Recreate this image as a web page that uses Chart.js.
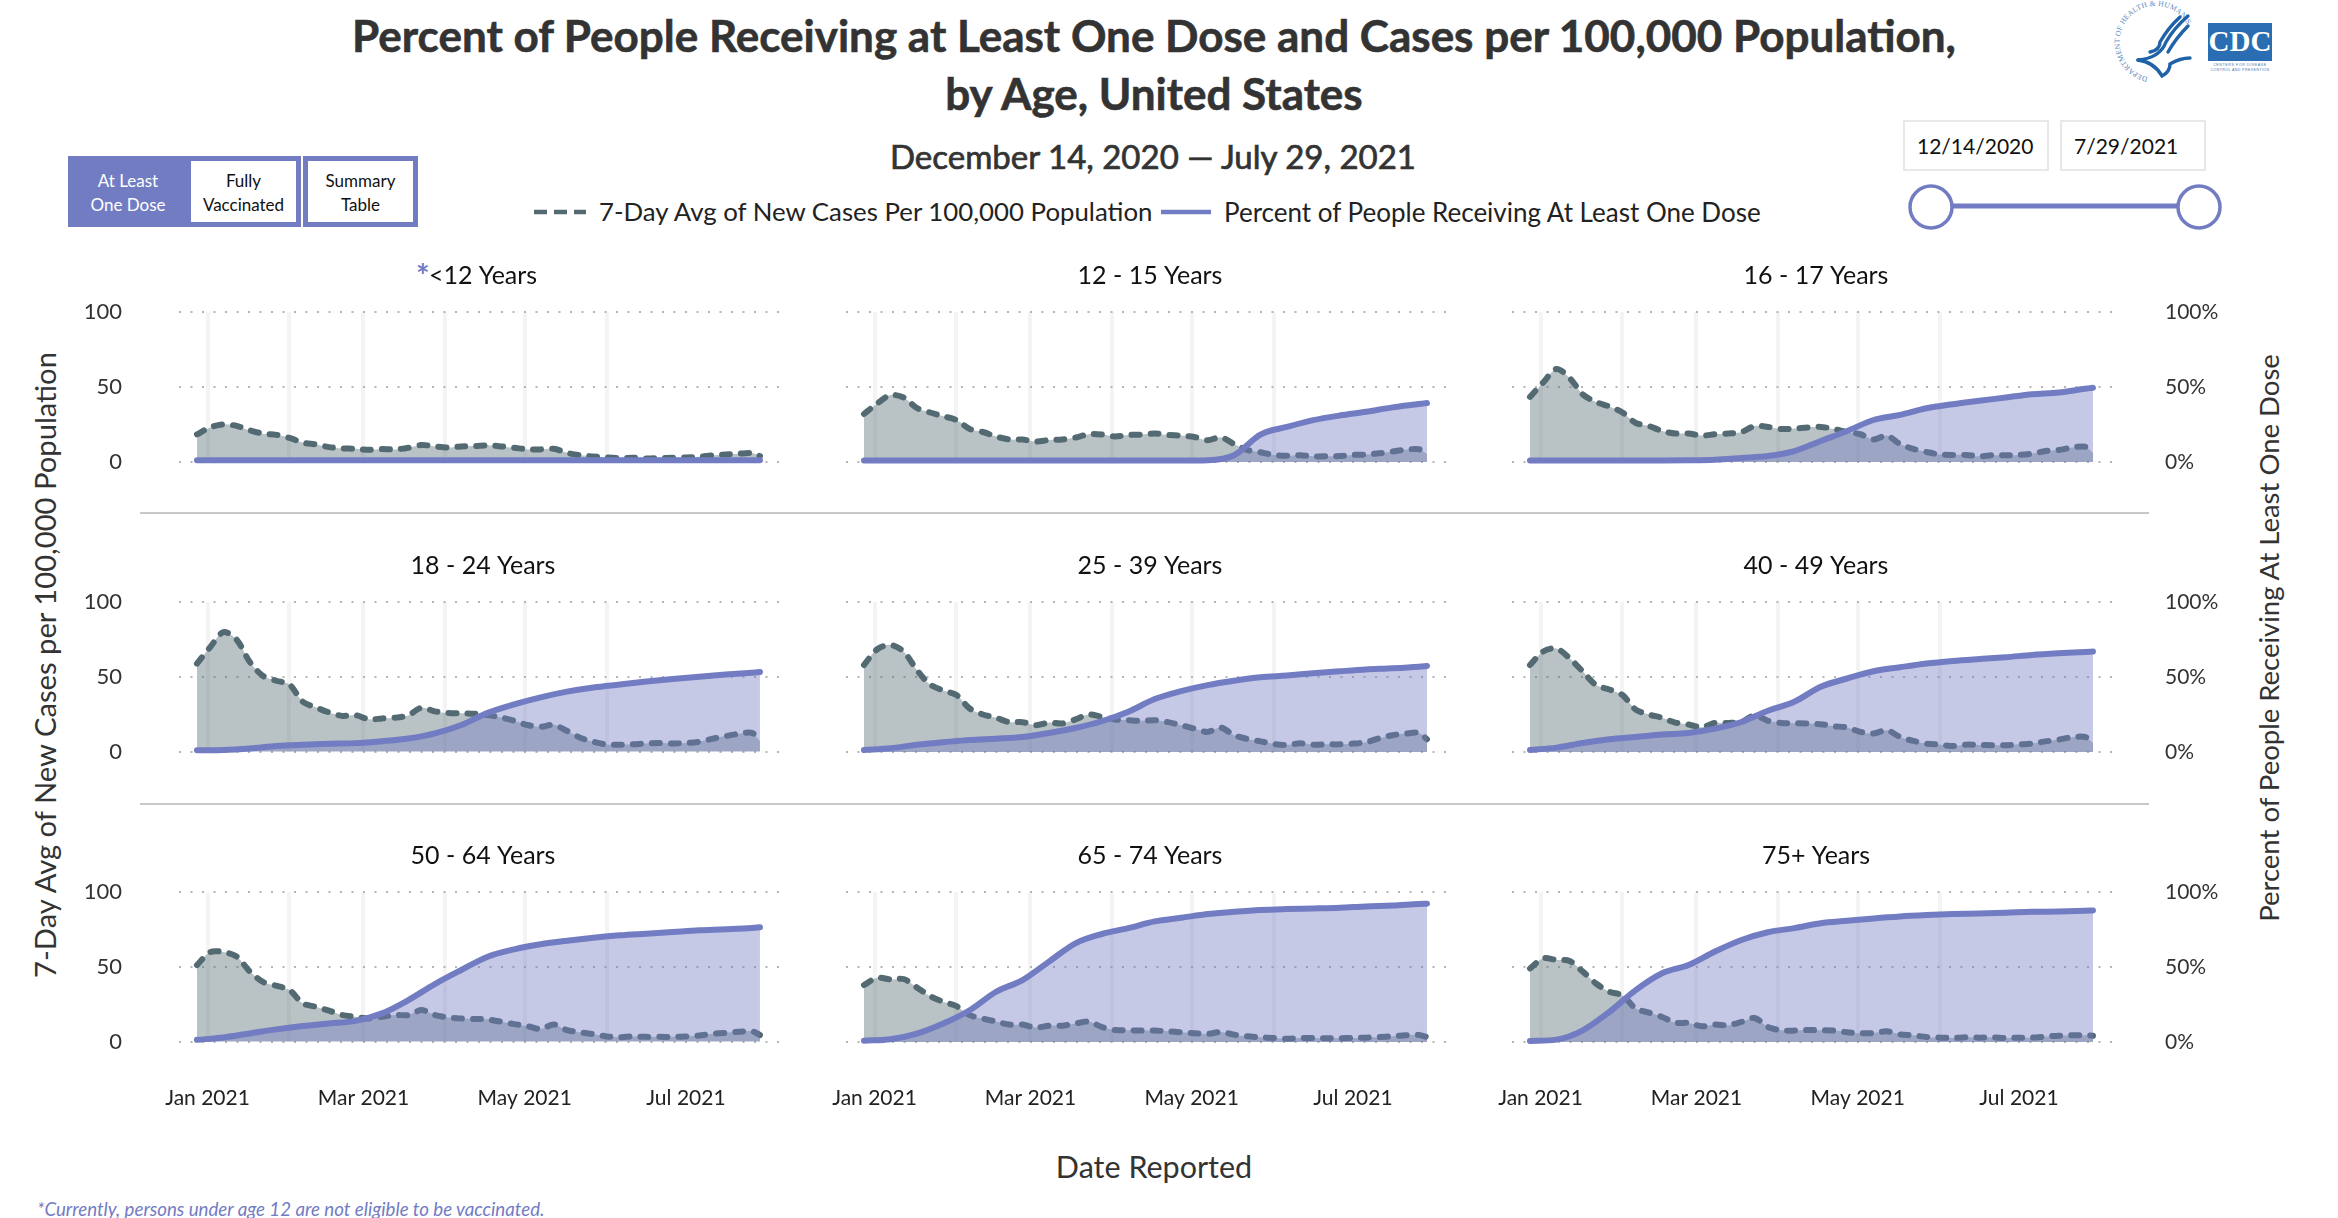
<!DOCTYPE html>
<html>
<head>
<meta charset="utf-8">
<title>Percent of People Receiving at Least One Dose and Cases per 100,000 Population</title>
<script src="https://cdn.jsdelivr.net/npm/chart.js@4"></script>
<style>
    html, body { margin: 0; padding: 0; background: #fff; overflow: hidden; }
    body { width: 2338px; height: 1218px; position: relative; font-family: Lato, "Open Sans", sans-serif; color: #333; }
    .abs { position: absolute; white-space: nowrap; }
    .center { transform: translate(-50%, -50%); }
    .rot { transform: translate(-50%, -50%) rotate(-90deg); }
    .btn { position: absolute; box-sizing: border-box; border: 5px solid #727cc2; font-size: 17px; line-height: 24px; text-align: center; color: #111; padding-top: 8px; }
    .datebox { position: absolute; box-sizing: border-box; top: 120px; width: 146px; height: 51px; border: 2px solid #e8e8e8; font-size: 21px; line-height: 47px; padding-left: 12px; color: #111; }
    canvas { position: absolute; }
    .sep { position: absolute; left: 140px; width: 2009px; height: 2px; background: #c8c8c8; }
</style>
</head>
<body>

<div class="abs center" style="left:1154px;top:35px;font-size:44px;font-weight:700;-webkit-text-stroke:0.6px #333;">Percent of People Receiving at Least One Dose and Cases per 100,000 Population,</div>
<div class="abs center" style="left:1154px;top:93px;font-size:44px;font-weight:700;-webkit-text-stroke:0.6px #333;">by Age, United States</div>
<div class="abs center" style="left:1153px;top:156px;font-size:33px;font-weight:400;-webkit-text-stroke:0.7px #333;">December 14, 2020 &mdash; July 29, 2021</div>

<div class="btn" style="left:68px;top:156px;width:120px;height:71px;background:#727cc2;color:#fff;">At Least<br>One Dose</div>
<div class="btn" style="left:186px;top:156px;width:115px;height:71px;">Fully<br>Vaccinated</div>
<div class="btn" style="left:303px;top:156px;width:115px;height:71px;">Summary<br>Table</div>

<svg class="abs" style="left:530px;top:200px;" width="60" height="24"><line x1="4" y1="12" x2="56" y2="12" stroke="#546a73" stroke-width="4.5" stroke-dasharray="13 7"/></svg>
<div class="abs" style="left:599px;top:196px;font-size:25.8px;color:#222;">7-Day Avg of New Cases Per 100,000 Population</div>
<svg class="abs" style="left:1158px;top:200px;" width="56" height="24"><line x1="3" y1="12" x2="53" y2="12" stroke="#727cc2" stroke-width="4.5"/></svg>
<div class="abs" style="left:1224px;top:196px;font-size:26px;color:#222;">Percent of People Receiving At Least One Dose</div>

<div class="datebox" style="left:1903px;">12/14/2020</div>
<div class="datebox" style="left:2060px;">7/29/2021</div>
<svg class="abs" style="left:1900px;top:180px;" width="330" height="54">
    <line x1="50" y1="26" x2="280" y2="26" stroke="#727cc2" stroke-width="5"/>
    <circle cx="31" cy="27" r="21" fill="#fff" stroke="#727cc2" stroke-width="3.5"/>
    <circle cx="299" cy="27" r="21" fill="#fff" stroke="#727cc2" stroke-width="3.5"/>
</svg>

<svg class="abs" style="left:2110px;top:0px;" width="180" height="84">
    <defs><path id="sealPath" d="M 38 77 A 36 36 0 1 1 78 26"/></defs>
    <text font-family="Liberation Serif" font-size="7.6" fill="#5b8ac0" letter-spacing="0.2"><textPath href="#sealPath">DEPARTMENT OF HEALTH &amp; HUMAN SERVICES USA</textPath></text>
    <g fill="none" stroke="#1f62a8" stroke-width="3.4" stroke-linecap="round">
        <path d="M 28 60 Q 50 58 56 42 Q 64 28 78 16"/>
        <path d="M 40 52 Q 50 50 50 42 Q 58 28 70 17"/>
        <path d="M 28 60 Q 44 62 52 76 Q 60 72 60 64 Q 70 58 80 58"/>
        <path d="M 58 52 Q 66 38 78 26"/>
    </g>
    <rect x="98" y="23" width="64" height="38" fill="#2a6db3"/>
    <text x="130" y="51" text-anchor="middle" font-family="Liberation Serif" font-weight="700" font-size="29" fill="#fff">CDC</text>
    <text x="130" y="66" text-anchor="middle" font-family="Liberation Sans" font-size="3.6" letter-spacing="0.6" fill="#3d76b5">CENTERS FOR DISEASE</text>
    <text x="130" y="71" text-anchor="middle" font-family="Liberation Sans" font-size="3.6" letter-spacing="0.4" fill="#3d76b5">CONTROL AND PREVENTION</text>
</svg>

<div class="sep" style="top:512px;"></div>
<div class="sep" style="top:803px;"></div>

<div class="abs rot" style="left:44px;top:665px;font-size:29.2px;">7-Day Avg of New Cases per 100,000 Population</div>
<div class="abs rot" style="left:2268px;top:638px;font-size:27.5px;">Percent of People Receiving At Least One Dose</div>
<div class="abs center" style="left:1154px;top:1166px;font-size:30.5px;">Date Reported</div>
<div class="abs" style="left:37px;top:1198px;font-size:18.7px;font-style:italic;color:#727cc2;">*Currently, persons under age 12 are not eligible to be vaccinated.</div>
<div class="abs" style="left:416px;top:256px;font-size:32px;font-weight:700;color:#727cc2;">*</div>

<div id="charts"></div>

<script>
// Days since Jan 1 2021 for each reading
const casesDays = [-4, 1, 6, 11, 16, 21, 26, 31, 36, 41, 46, 51, 56, 61, 66, 71, 76, 81, 86, 91, 96, 101, 106, 111, 116, 121, 126, 131, 136, 141, 146, 151, 156, 161, 166, 171, 176, 181, 186, 191, 196, 201, 206, 209];
const doseDays = [-4, 6, 16, 26, 36, 46, 56, 66, 76, 86, 96, 106, 116, 126, 136, 146, 156, 166, 176, 186, 196, 206, 209];

const ageGroups = ['<12 Years', '12 - 15 Years', '16 - 17 Years', '18 - 24 Years', '25 - 39 Years', '40 - 49 Years', '50 - 64 Years', '65 - 74 Years', '75+ Years'];

// Month gridlines and their labels on the x axis
const monthDays = [0, 31, 59, 90, 120, 151, 181];
const monthLabels = ['Jan 2021', '', 'Mar 2021', '', 'May 2021', '', 'Jul 2021'];
const hiddenGridDay = 181;

const yTicks = [0, 50, 100];

// 7-day average of new cases per 100,000
const casesUnder12 = [18.3, 23, 25, 24, 21, 18.8, 18, 16, 12.8, 11.6, 9.8, 9, 8.7, 8, 8.5, 8.3, 9.4, 11.2, 10.3, 9.6, 10.3, 10.5, 11, 10.3, 9.4, 8.3, 8.3, 8.7, 6, 4.3, 3.6, 2.9, 2.5, 2.7, 2.2, 2.5, 2.7, 2.9, 3.4, 4.3, 4.9, 5.4, 5.8, 3.8];
const cases12to15 = [32, 39, 44.6, 43, 36, 33, 30.5, 28, 22, 20, 17, 15, 15, 13.6, 14.7, 15, 16.3, 18.5, 18.3, 17, 18, 18.3, 19, 18, 17.6, 16.7, 14.5, 16.5, 12, 8, 6.5, 4.7, 4.2, 4.5, 3.8, 3.8, 4, 4.7, 5, 5.8, 7, 8.2, 8.5, 5.3];
const cases16to17 = [43.4, 53, 62, 56, 45, 40, 37, 33, 26, 24, 20.7, 19, 19, 17.6, 18.5, 19, 20, 24, 23.4, 22, 22.3, 23, 23.4, 22, 20, 18.5, 15, 17.6, 12, 8.7, 6.7, 5, 4.7, 4.7, 3.8, 4.5, 4.5, 4.7, 5.6, 7.3, 8, 9.6, 10.2, 6.2];
const cases18to24 = [59, 70, 80, 75, 60, 50.7, 47.5, 45, 33.5, 29.7, 26.3, 24, 24.5, 21.7, 22.3, 22.8, 24.5, 29.5, 27, 26, 25.7, 25.4, 24.5, 23, 20.8, 17.9, 16.7, 18, 14, 9.4, 6.7, 4.9, 4.7, 5, 5.6, 5.8, 5.6, 5.8, 6.7, 8.7, 10.5, 12, 12.7, 7.1];
const cases25to39 = [58, 68.5, 71.4, 67, 54.7, 45, 41, 38, 29, 25, 22.8, 19.9, 19.9, 17.9, 19.6, 19, 21.7, 25, 23.4, 21.7, 21.2, 20.8, 21.2, 19.9, 17.9, 15.6, 13.4, 16.3, 11.2, 8.7, 7.1, 5.4, 4.7, 5.8, 4.9, 5.1, 5.1, 5.6, 6.5, 9.2, 11.2, 12.3, 12.7, 8.5];
const cases40to49 = [58, 67, 69, 62.5, 53.6, 44.6, 41.7, 38, 28.3, 25, 22.8, 19.6, 18.3, 16.5, 19.4, 19.4, 20, 24.5, 20.8, 19.4, 19.2, 19, 18.5, 17.2, 16.3, 13.4, 12.3, 14.5, 10, 7.4, 5.6, 4.9, 4, 4.9, 4.7, 4.5, 4.5, 5.1, 5.6, 7.1, 8.3, 9.8, 10, 6];
const cases50to64 = [51.3, 60, 60, 57, 47, 40, 37.5, 34.6, 25.7, 23.4, 20.8, 17.9, 16.7, 15.6, 16.7, 17.9, 17.9, 21.2, 17.9, 16.3, 15.6, 15.2, 15, 13.4, 11.8, 10.5, 8.5, 11.6, 7.8, 6.3, 5.1, 3.6, 3.1, 3.6, 3.3, 3.3, 3.3, 3.6, 4.2, 5.4, 6, 6.7, 7.1, 4.5];
const cases65to74 = [38, 42.9, 41.7, 42, 36.4, 30.6, 26.8, 23.9, 17.9, 15.6, 13.6, 11.6, 11.6, 9.6, 10.9, 10.9, 12.3, 13.6, 10, 8, 7.8, 7.6, 7.6, 7.1, 6.5, 5.8, 5.4, 6.7, 4.9, 3.8, 3.1, 2.7, 2.2, 2.7, 2.7, 2.5, 2.5, 2.7, 2.9, 3.3, 3.8, 4.5, 4.7, 3.3];
const cases75plus = [49, 55.8, 54.7, 54, 46.9, 39, 33.5, 31, 22.3, 19.6, 16.7, 12.9, 12.7, 10.5, 11.6, 11.2, 13.4, 16, 10, 7.8, 7.6, 8, 7.8, 7.6, 6.5, 5.8, 6, 7.1, 5.1, 4.5, 3.3, 2.9, 2.7, 3.1, 2.9, 3.1, 2.7, 2.9, 2.9, 3.6, 4.2, 4.5, 4.5, 4.2];

// Percent of people receiving at least one dose
const doseUnder12 = [1, 1, 1, 1, 1, 1, 1, 1, 1, 1, 1, 1, 1, 1, 1, 1, 1, 1, 1, 1, 1, 1, 1];
const dose12to15 = [1, 1, 1, 1, 1, 1, 1, 1, 1, 1, 1, 1, 1, 1.2, 4.5, 18.3, 23.4, 27.9, 31, 33.5, 36.4, 38.6, 39.3];
const dose16to17 = [1, 1, 1, 1, 1, 1, 1.1, 1.5, 2.7, 4, 7.3, 14, 20.7, 28, 31.4, 35.8, 38.5, 40.8, 43, 45.2, 46.3, 48.8, 49.5];
const dose18to24 = [1, 1.2, 2.2, 3.8, 4.7, 5.4, 5.8, 7.1, 8.9, 12.3, 17.9, 26, 31.7, 36.4, 40.2, 43, 45, 47, 48.7, 50.2, 51.6, 52.9, 53.3];
const dose25to39 = [1.3, 2.5, 4.9, 6.5, 8, 8.9, 10, 12.7, 16, 20.5, 26.8, 35.3, 40.6, 44.6, 47.5, 49.8, 51, 52.5, 53.8, 55, 55.8, 56.9, 57.4];
const dose40to49 = [1.3, 2.9, 6, 8.5, 10, 11.6, 12.7, 15.6, 20, 27.5, 33.5, 43.5, 49, 53.8, 56.5, 59, 60.7, 62, 63.2, 64.7, 65.8, 66.7, 67];
const dose50to64 = [1.3, 2.9, 5.6, 8.3, 10.5, 12.3, 14, 19, 27.9, 38.6, 48, 56.9, 61.8, 65.2, 67.6, 69.6, 71.2, 72.3, 73.4, 74.5, 75.2, 76.1, 76.6];
const dose65to74 = [0.9, 1.8, 5.6, 12.3, 21.2, 33.5, 41.3, 53.6, 65.8, 72, 75.9, 80.4, 82.8, 85.3, 86.8, 88, 88.6, 89, 89.5, 90.4, 91, 92, 92.2];
const dose75plus = [0.7, 1.6, 7.8, 20, 34.6, 45.8, 51.3, 60.3, 68, 73.2, 75.9, 79.2, 80.8, 82.4, 83.7, 84.6, 85.3, 85.7, 86.2, 86.8, 87, 87.5, 87.7];

const casesSeries = [casesUnder12, cases12to15, cases16to17, cases18to24, cases25to39, cases40to49, cases50to64, cases65to74, cases75plus];
const doseSeries = [doseUnder12, dose12to15, dose16to17, dose18to24, dose25to39, dose40to49, dose50to64, dose65to74, dose75plus];

const plotLefts = [179, 846, 1512];
const plotTops = [312, 602, 892];

// If page is fully loaded
document.addEventListener("DOMContentLoaded", () => {
    ageGroups.forEach((name, i) => createAgeChart(name, i));
});

function toPoints(days, values)
{
    return days.map((d, i) => ({ x: d, y: values[i] }));
}

// function that will create one small chart for one age group
function createAgeChart(name, i)
{
    const col = i % 3;
    const row = Math.floor(i / 3);

    const canvas = document.createElement("canvas");
    canvas.width = 820;
    canvas.height = 290;
    // left axis a little narrower than the right one so the title sits right of the plot centre
    canvas.style.left = (plotLefts[col] - 106) + "px";
    canvas.style.top = (plotTops[row] - 70) + "px";
    document.getElementById("charts").appendChild(canvas);

    new Chart(canvas, {
        type: 'line',
        data: {
            datasets: [{
                label: '7-Day Avg of New Cases Per 100,000 Population',
                data: toPoints(casesDays, casesSeries[i]),
                yAxisID: 'y',
                order: 2,
                borderColor: '#546a73',
                backgroundColor: 'rgba(84,106,115,0.41)',
                borderWidth: 6,
                borderDash: [8, 11],
                borderCapStyle: 'round',
                fill: 'origin',
                pointRadius: 0,
                tension: 0.3,
                clip: false
            }, {
                label: 'Percent of People Receiving At Least One Dose',
                data: toPoints(doseDays, doseSeries[i]),
                yAxisID: 'y1',
                order: 1,
                borderColor: '#727cc2',
                backgroundColor: 'rgba(114,124,194,0.41)',
                borderWidth: 6,
                borderCapStyle: 'round',
                fill: 'origin',
                pointRadius: 0,
                cubicInterpolationMode: 'monotone',
                clip: false
            }]
        },
        options: {
            responsive: false,
            animation: false,
            layout: { autoPadding: false, padding: 0 },
            plugins: {
                legend: { display: false },
                tooltip: { enabled: false },
                title: {
                    display: true,
                    text: name,
                    color: '#111',
                    font: { family: 'Lato', size: 25, weight: 'normal', lineHeight: 1.2 },
                    padding: { top: 19, bottom: 21 }
                }
            },
            scales: {
                x: {
                    type: 'linear',
                    min: -10.8,
                    max: 216.2,
                    afterBuildTicks: (scale) => { scale.ticks = monthDays.map(d => ({ value: d })); },
                    afterFit: (scale) => { scale.height = 70; },
                    border: { display: false },
                    grid: {
                        drawTicks: false,
                        lineWidth: 4,
                        color: (ctx) => (ctx.tick && ctx.tick.value === hiddenGridDay) ? 'rgba(0,0,0,0)' : '#f4f4f4'
                    },
                    ticks: {
                        display: row === 2,
                        autoSkip: false,
                        maxRotation: 0,
                        minRotation: 0,
                        padding: 44,
                        color: '#222',
                        font: { family: 'Lato', size: 21 },
                        callback: (v) => monthLabels[monthDays.indexOf(v)]
                    }
                },
                y: {
                    position: 'left',
                    min: 0,
                    max: 100,
                    afterBuildTicks: (scale) => { scale.ticks = yTicks.map(v => ({ value: v })); },
                    afterFit: (scale) => { scale.width = 106; },
                    border: { display: false, dash: [2, 9.5] },
                    grid: { drawTicks: false, color: '#b5b5b5', lineWidth: 2 },
                    ticks: {
                        display: col === 0,
                        padding: 57,
                        color: '#333',
                        font: { family: 'Lato', size: 22 }
                    }
                },
                y1: {
                    position: 'right',
                    min: 0,
                    max: 100,
                    afterBuildTicks: (scale) => { scale.ticks = yTicks.map(v => ({ value: v })); },
                    afterFit: (scale) => { scale.width = 114; },
                    border: { display: false },
                    grid: { display: false, drawTicks: false },
                    ticks: {
                        display: col === 2,
                        padding: 53,
                        color: '#333',
                        font: { family: 'Lato', size: 21 },
                        callback: (v) => v + '%'
                    }
                }
            }
        }
    });
}
</script>
</body>
</html>
